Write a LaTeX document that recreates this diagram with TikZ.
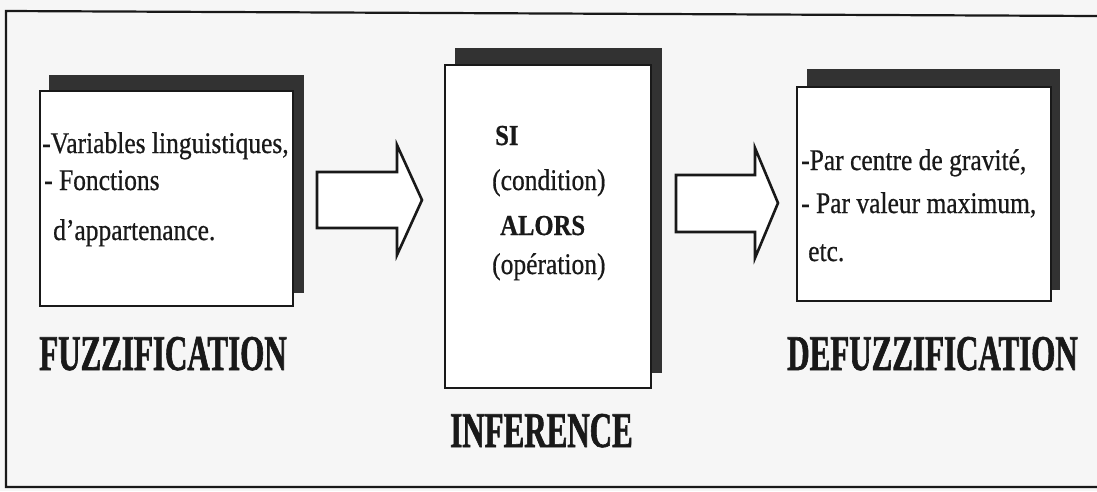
\documentclass[tikz,border=0pt]{standalone}
\usepackage{fontspec}
\setmainfont{Liberation Serif}
\newfontfamily\boxfont[FakeStretch=0.85,FakeBold=0.6]{Liberation Serif}
\newfontfamily\bigfont[FakeStretch=0.62,FakeBold=1.2]{Liberation Serif}
\definecolor{paper}{RGB}{246,246,246}
\definecolor{ink}{RGB}{25,25,25}
\definecolor{shadowc}{RGB}{50,50,50}
\tikzset{
  box/.style={draw=ink, line width=2.2pt, fill=white, inner sep=0pt},
  boxtxt/.style={anchor=base west, inner sep=0pt, text=ink, font=\boxfont\fontsize{30}{30}\selectfont},
  boxtxtb/.style={boxtxt, font=\boxfont\bfseries\fontsize{29}{29}\selectfont},
  inftxt/.style={boxtxt, font=\boxfont\fontsize{30}{30}\selectfont},
  title/.style={anchor=base, inner sep=0pt, text=ink, font=\bigfont\bfseries\fontsize{50}{50}\selectfont},
  blockarrow/.style={draw=ink, line width=2.6pt, fill=white, line join=miter},
  shadowbox/.style={fill=shadowc},
  frameline/.style={draw=ink, line width=2.2pt}
}
\begin{document}
\begin{tikzpicture}[x=1pt,y=-1pt]
\fill[paper] (0,0) rectangle (1097,491);
\useasboundingbox (0,0) rectangle (1097,491);
% frame
\draw[frameline] (1097,16) -- (6,11) -- (6,487) -- (1097,487);
% shadows
\fill[shadowbox] (49,75) rectangle (304,293);
\fill[shadowbox] (455,48) rectangle (662,373);
\fill[shadowbox] (807,69) rectangle (1060,290);
% boxes
\node[box, minimum width=253pt, minimum height=215pt] (fuzz) at (166.5,198.5) {};
\node[box, minimum width=206pt, minimum height=323pt] (inf) at (548,226.5) {};
\node[box, minimum width=254pt, minimum height=214pt] (defuzz) at (924,194) {};
% arrows
\draw[blockarrow] (317,172) -- (397,172) -- (397,145) -- (422,200) -- (397,255) -- (397,228) -- (317,228) -- cycle;
\draw[blockarrow] (676,175) -- (755,175) -- (755,148) -- (778,203) -- (755,258) -- (755,232) -- (676,232) -- cycle;
% fuzzification text
\node[boxtxt] (f1) at (42,153) {-Variables linguistiques,};
\node[boxtxt] (f2) at (44,190) {- Fonctions};
\node[boxtxt] (f3) at (53,240) {d’appartenance.};
% inference text
\node[boxtxtb] (i1) at (495,145) {SI};
\node[inftxt] (i2) at (492,190) {(condition)};
\node[boxtxtb] (i3) at (500,235) {ALORS};
\node[inftxt] (i4) at (492,274) {(opération)};
% defuzzification text
\node[boxtxt] (d1) at (801,170) {-Par centre de gravité,};
\node[boxtxt] (d2) at (801,213) {- Par valeur maximum,};
\node[boxtxt] (d3) at (808,261) {etc.};
% titles
\node[title] (tf) at (163,370) {FUZZIFICATION};
\node[title] (ti) at (541.5,447) {INFERENCE};
\node[title] (td) at (932.5,370) {DEFUZZIFICATION};
\end{tikzpicture}
\end{document}
